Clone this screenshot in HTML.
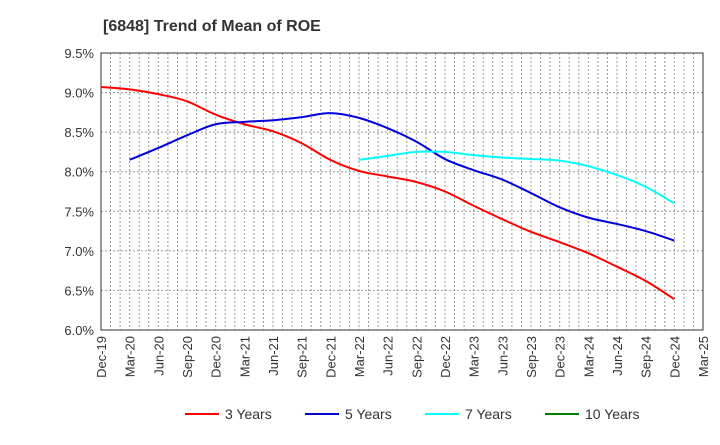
<!DOCTYPE html>
<html><head><meta charset="utf-8"><style>
body{margin:0;background:#fff;font-family:"Liberation Sans",sans-serif}
</style></head><body>
<svg width="720" height="440" xmlns="http://www.w3.org/2000/svg" id="chart">
<text x="103" y="31" font-size="16" font-weight="bold" fill="#333">[6848]  Trend of Mean of ROE</text>
<g id="grid"></g><g id="axes"></g><g id="series"></g><g id="legend"></g>
</svg>
<script>
const xLabels=["Dec-19","Mar-20","Jun-20","Sep-20","Dec-20","Mar-21","Jun-21","Sep-21","Dec-21","Mar-22","Jun-22","Sep-22","Dec-22","Mar-23","Jun-23","Sep-23","Dec-23","Mar-24","Jun-24","Sep-24","Dec-24","Mar-25"];
const yTicks=[6.0,6.5,7.0,7.5,8.0,8.5,9.0,9.5];
const seriesNames=["3 Years","5 Years","7 Years","10 Years"];
const seriesColors=["#ff0000","#0000dd","#00ffff","#008000"];
const s3=[9.07,9.04,8.98,8.89,8.72,8.60,8.51,8.36,8.15,8.01,7.94,7.87,7.75,7.57,7.40,7.24,7.11,6.97,6.80,6.62,6.39];
const s5=[null,8.15,8.30,8.46,8.60,8.63,8.65,8.69,8.74,8.68,8.55,8.38,8.16,8.02,7.90,7.73,7.55,7.42,7.34,7.25,7.13];
const s7=[null,null,null,null,null,null,null,null,null,8.15,8.20,8.25,8.25,8.21,8.18,8.16,8.14,8.07,7.96,7.81,7.60];
const s10=[];
const NS="http://www.w3.org/2000/svg";
const L=101,R=703,T=53,B=330;
const xs=i=>L+(R-L)*i/(xLabels.length-1);
const ys=v=>B-(v-6.0)/(3.5)*(B-T);
function mk(t,a,p){const e=document.createElementNS(NS,t);for(const k in a)e.setAttribute(k,a[k]);p.appendChild(e);return e;}
const grid=document.getElementById('grid'),axes=document.getElementById('axes'),ser=document.getElementById('series'),leg=document.getElementById('legend');
for(let m=1;m<(xLabels.length-1)*3;m++){const x=L+(R-L)*m/((xLabels.length-1)*3);
const g=mk('line',{x1:x,x2:x,y1:T,y2:B,stroke:'#999','stroke-dasharray':'2,2','stroke-width':1},grid);

}
yTicks.forEach(v=>{const y=ys(v);
const g=mk('line',{x1:L,x2:R,y1:y,y2:y,stroke:'#999','stroke-dasharray':'2,2','stroke-width':1},grid);


const t=mk('text',{x:L-7,y:y+5,'text-anchor':'end','font-size':13,fill:'#333'},axes);t.textContent=v.toFixed(1)+'%';

});
const f=mk('rect',{x:L,y:T,width:R-L,height:B-T,fill:'none',stroke:'#333','stroke-width':1},axes);


xLabels.forEach((l,i)=>{const x=xs(i);
const t=mk('text',{transform:`translate(${x+5},${B+6}) rotate(-90)`,'text-anchor':'end','font-size':13,fill:'#333'},axes);t.textContent=l;

});
function path(arr){const p=[];arr.forEach((v,i)=>{if(v!=null)p.push([xs(i),ys(v)]);});if(p.length<2)return '';
let d=`M${p[0][0]},${p[0][1]}`;for(let i=0;i<p.length-1;i++){const p0=p[i-1]||p[i],p1=p[i],p2=p[i+1],p3=p[i+2]||p2;
d+=` C${p1[0]+(p2[0]-p0[0])/6},${p1[1]+(p2[1]-p0[1])/6} ${p2[0]-(p3[0]-p1[0])/6},${p2[1]-(p3[1]-p1[1])/6} ${p2[0]},${p2[1]}`;}return d;}
[s3,s5,s7,s10].forEach((s,k)=>{const d=path(s);if(!d)return;
const e=mk('path',{d:d,fill:'none',stroke:seriesColors[k],'stroke-width':2},ser);

});
const lx=[185,305,425,545];
seriesNames.forEach((n,k)=>{
const g=mk('g',{},leg);


mk('line',{x1:lx[k],x2:lx[k]+34,y1:414,y2:414,stroke:seriesColors[k],'stroke-width':2},g);
const t=mk('text',{x:lx[k]+40,y:419,'font-size':14,fill:'#333'},g);t.textContent=n;});
</script>
</body></html>
